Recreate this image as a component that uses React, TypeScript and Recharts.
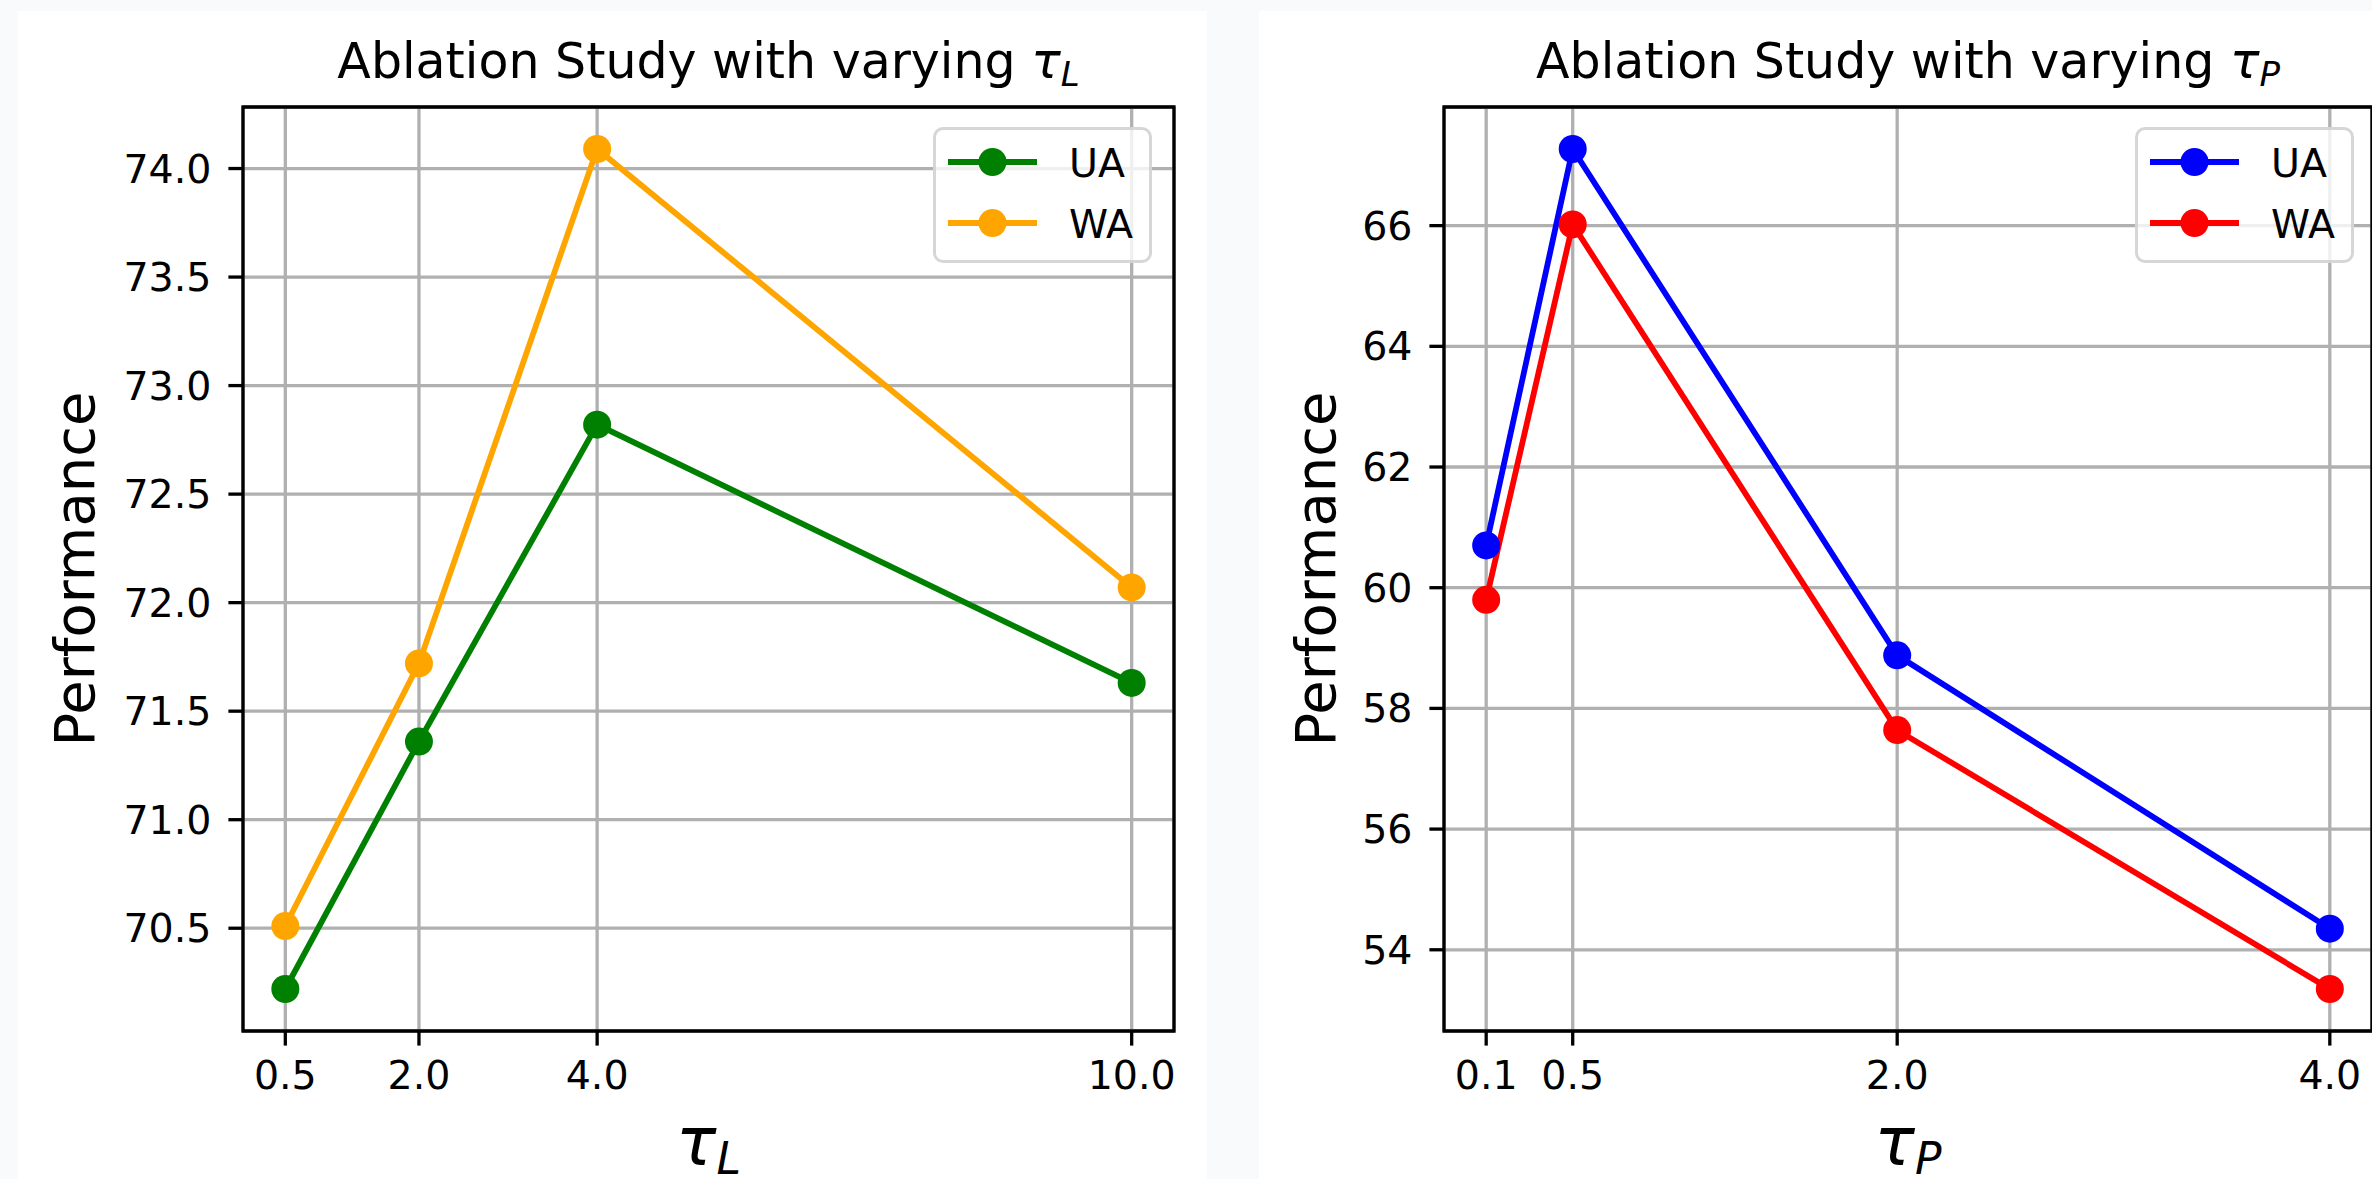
import React from 'react';
import { LineChart, Line, XAxis, YAxis, CartesianGrid, Legend, ReferenceArea } from 'recharts';

// left panel: tau_L sweep
const TAU_L = [0.5, 2.0, 4.0, 10.0];
const UA_L = [70.22, 71.36, 72.82, 71.63];
const WA_L = [70.51, 71.72, 74.09, 72.07];
const Y_TICKS_L = [70.5, 71.0, 71.5, 72.0, 72.5, 73.0, 73.5, 74.0];

// right panel: tau_P sweep
const TAU_P = [0.1, 0.5, 2.0, 4.0];
const UA_P = [60.7, 67.27, 58.88, 54.35];
const WA_P = [59.8, 66.02, 57.64, 53.35];
const Y_TICKS_P = [54, 56, 58, 60, 62, 64, 66];

const FONT = '"DejaVu Sans", sans-serif';
const TICK_FS = 39.5;

// matplotlib-style 5% margins around the data
const pad = (vals: number[]): [number, number] => {
  const lo = Math.min(...vals);
  const hi = Math.max(...vals);
  const m = (hi - lo) * 0.05;
  return [lo - m, hi + m];
};

const MplLegend = ({ payload }: any) => (
  <div
    style={{
      width: 219,
      height: 136,
      boxSizing: 'border-box',
      border: '3.3px solid rgba(204,204,204,0.8)',
      borderRadius: 10,
      background: 'rgba(255,255,255,0.8)',
      position: 'relative',
    }}
  >
    <svg width={213} height={130} style={{ position: 'absolute', left: 0, top: 0 }}>
      {(payload || []).map((p: any, i: number) => {
        const cy = 32 + i * 61;
        return (
          <g key={p.value}>
            <line x1={12} x2={101} y1={cy} y2={cy} stroke={p.color} strokeWidth={5.8} />
            <circle cx={56.5} cy={cy} r={14} fill={p.color} />
            <text x={133} y={cy + 14.5} fontSize={TICK_FS} fill="#000" fontFamily={FONT}>
              {p.value}
            </text>
          </g>
        );
      })}
    </svg>
  </div>
);

interface PanelProps {
  left: number;
  width: number;
  yAxisWidth: number;
  marginRight: number;
  taus: number[];
  ua: number[];
  wa: number[];
  uaColor: string;
  waColor: string;
  yTicks: number[];
  decimals: number;
  sub: string;
  legendLeft: number;
}

const Panel: React.FC<PanelProps> = ({
  left, width, yAxisWidth, marginRight, taus, ua, wa, uaColor, waColor, yTicks, decimals, sub, legendLeft,
}) => {
  const height = 1168;
  const data = taus.map((t, i) => ({ tau: t, UA: ua[i], WA: wa[i] }));
  const xDom = pad(taus);
  const yDom = pad([...ua, ...wa]);
  const plotCx = yAxisWidth + (width - yAxisWidth - marginRight) / 2;

  return (
    <div style={{ position: 'absolute', left, top: 11, width, height, background: '#fff', fontFamily: FONT }}>
      <LineChart width={width} height={height} data={data} margin={{ top: 96, right: marginRight, bottom: 0, left: 0 }}>
        <CartesianGrid stroke="#b0b0b0" strokeWidth={3.3} />
        <XAxis
          type="number"
          dataKey="tau"
          domain={xDom}
          ticks={taus}
          tickFormatter={(v: number) => v.toFixed(1)}
          height={148}
          axisLine={false}
          tickLine={{ stroke: '#000', strokeWidth: 3.3 }}
          tickSize={14.6}
          tickMargin={15}
          tick={{ fill: '#000', fontSize: TICK_FS }}
          label={(p: any) => {
            const vb = p.viewBox;
            return (
              <text x={vb.x + vb.width / 2} y={vb.y + 134} textAnchor="middle" fontSize={67} fontStyle="italic" fill="#000">
                <tspan>τ</tspan>
                <tspan fontSize={44} dy={9}>{sub}</tspan>
              </text>
            );
          }}
        />
        <YAxis
          type="number"
          domain={yDom}
          ticks={yTicks}
          tickFormatter={(v: number) => v.toFixed(decimals)}
          width={yAxisWidth}
          axisLine={false}
          tickLine={{ stroke: '#000', strokeWidth: 3.3 }}
          tickSize={14.6}
          tickMargin={17}
          tick={{ fill: '#000', fontSize: TICK_FS }}
          label={(p: any) => {
            const vb = p.viewBox;
            const cy = vb.y + vb.height / 2;
            return (
              <text transform={`translate(${vb.x + 76}, ${cy}) rotate(-90)`} textAnchor="middle" fontSize={56} fill="#000">
                Performance
              </text>
            );
          }}
        />
        <ReferenceArea x1={xDom[0]} x2={xDom[1]} y1={yDom[0]} y2={yDom[1]} fill="none" stroke="#000" strokeWidth={3.3} />
        <Line
          type="linear"
          dataKey="UA"
          name="UA"
          stroke={uaColor}
          strokeWidth={5.8}
          dot={{ r: 14, fill: uaColor, stroke: uaColor, strokeWidth: 0 }}
          activeDot={false}
          isAnimationActive={false}
        />
        <Line
          type="linear"
          dataKey="WA"
          name="WA"
          stroke={waColor}
          strokeWidth={5.8}
          dot={{ r: 14, fill: waColor, stroke: waColor, strokeWidth: 0 }}
          activeDot={false}
          isAnimationActive={false}
        />
        <Legend
          layout="horizontal"
          verticalAlign="middle"
          align="center"
          content={<MplLegend />}
          wrapperStyle={{ left: legendLeft, top: 116, width: 219, height: 136 }}
        />
      </LineChart>
      <svg width={width} height={100} style={{ position: 'absolute', left: 0, top: 0, pointerEvents: 'none' }}>
        <text x={plotCx} y={67} textAnchor="middle" fontSize={49} fill="#000" style={{ whiteSpace: 'pre' }}>
          <tspan>Ablation Study with varying </tspan>
          <tspan fontStyle="italic">τ</tspan>
          <tspan fontStyle="italic" fontSize={34} dy={8}>{sub}</tspan>
        </text>
      </svg>
    </div>
  );
};

export default function App() {
  return (
    <div style={{ position: 'absolute', left: 0, top: 0, width: 2372, height: 1179, background: '#f9fafc', overflow: 'hidden' }}>
      <Panel
        left={18}
        width={1189}
        yAxisWidth={225}
        marginRight={33}
        taus={TAU_L}
        ua={UA_L}
        wa={WA_L}
        uaColor="#008000"
        waColor="#ffa500"
        yTicks={Y_TICKS_L}
        decimals={1}
        sub="L"
        legendLeft={915}
      />
      <Panel
        left={1259}
        width={1113}
        yAxisWidth={185}
        marginRight={0}
        taus={TAU_P}
        ua={UA_P}
        wa={WA_P}
        uaColor="#0000ff"
        waColor="#ff0000"
        yTicks={Y_TICKS_P}
        decimals={0}
        sub="P"
        legendLeft={876}
      />
    </div>
  );
}
